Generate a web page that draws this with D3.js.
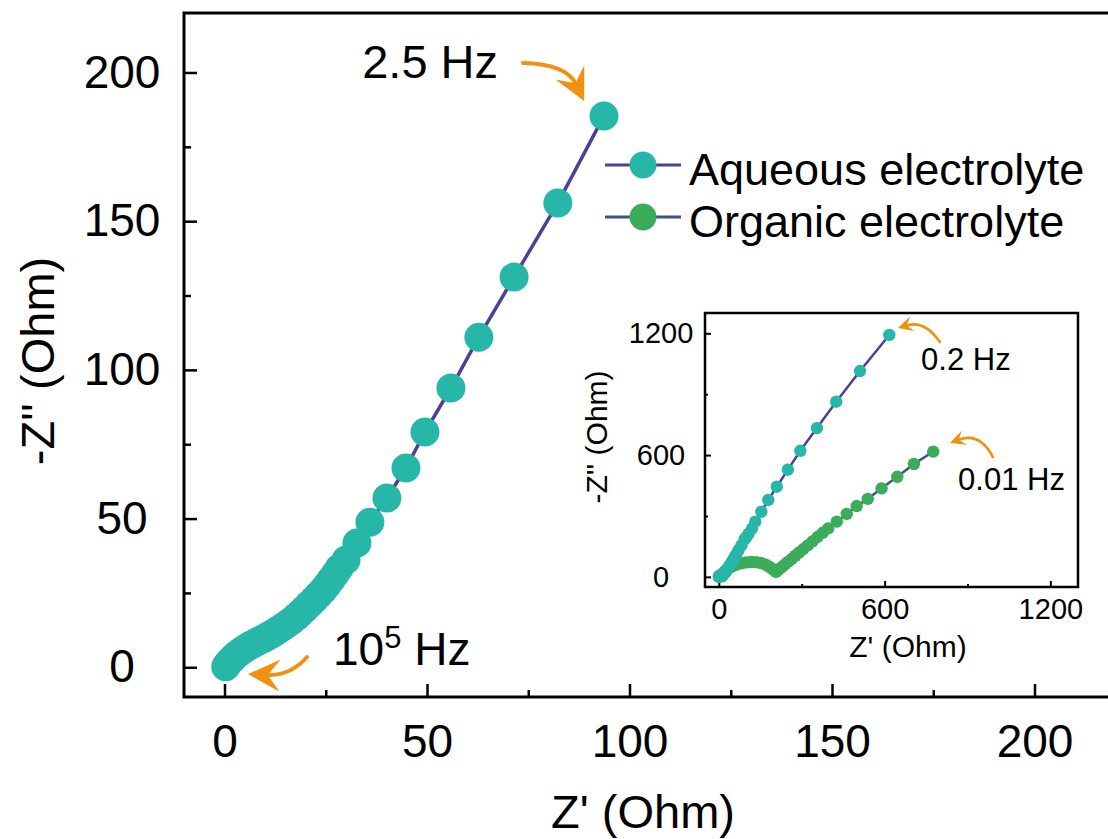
<!DOCTYPE html>
<html lang="en">
<head>
<meta charset="UTF-8">
<title>Nyquist plot</title>
<style>
  body { margin: 0; background: #fff; }
  svg { display: block; font-family: 'Liberation Sans', Arial, sans-serif; }
  .axis path, .axis line { stroke: #000; }
  .axis text { fill: #000; }
</style>
</head>
<body>
<div id="chart"></div>
<script src="https://cdnjs.cloudflare.com/ajax/libs/d3/7.8.5/d3.min.js"></script>
<script>
// aqueous electrolyte, high frequency part (main plot, down to 2.5 Hz)
const aqZre = [0.3, 0.8, 1.5, 2.3, 3.2, 4.2, 5.2, 6.3, 7.4, 8.5, 9.6, 10.7, 11.8, 12.9, 14.0, 15.2, 16.4, 17.6, 18.7, 19.8,
               20.9, 22.1, 23.2, 24.3, 25.3, 26.3, 27.3, 28.3, 30.0, 32.7, 35.9, 40.1, 44.8, 49.5, 55.9, 62.8, 71.5, 82.3, 93.7];
const aqZim = [0.2, 1.2, 2.3, 3.4, 4.5, 5.5, 6.4, 7.3, 8.1, 8.9, 9.6, 10.4, 11.3, 12.2, 13.2, 14.3, 15.5, 16.8, 18.2, 19.6,
               21.1, 22.7, 24.3, 25.9, 27.6, 29.4, 31.3, 33.3, 36.1, 41.8, 48.8, 56.9, 67.0, 79.1, 93.9, 111.0, 131.2, 156.1, 185.4];
// aqueous electrolyte, low frequency part (only in inset, down to 0.2 Hz)
const aqLowZre = [100, 108, 120, 132, 154, 179, 210, 250, 295, 355, 425, 511, 617];
const aqLowZim = [197, 213, 238, 272, 321, 379, 444, 528, 621, 733, 863, 1014, 1192];
// organic electrolyte (inset, down to 0.01 Hz)
const orgZre = [12, 16, 22, 30, 40, 52, 66, 82, 99, 117, 135, 152, 168, 181, 192, 201,
                207, 214, 222, 231, 241, 252, 264, 277, 291, 306, 322, 339, 357, 376, 396,
                427, 463, 499, 539, 589, 646, 706, 776];
const orgZim = [3, 13, 24, 35, 45, 54, 61, 67, 71, 73, 72, 68, 61, 51, 41, 32,
                25, 33, 42, 52, 63, 75, 89, 104, 120, 137, 155, 175, 196, 217, 239,
                272, 310, 349, 384, 436, 493, 556, 617];

const seriesNames = ['Aqueous electrolyte', 'Organic electrolyte'];
const mainTicks = [0, 50, 100, 150, 200];
const mainMinor = [25, 75, 125, 175];
const insetTicks = [0, 600, 1200];
const insetMinor = [300, 900];

const teal = '#27b7a9';
const green = '#3cab5a';
const purple = '#4b3f98';
const slate = '#3d5286';
const orange = '#f0910f';

const width = 1108, height = 839;

const zip = (xs, ys) => xs.map((v, i) => [v, ys[i]]);
const aqMain = zip(aqZre, aqZim);
const aqAll = aqMain.concat(zip(aqLowZre, aqLowZim));
const org = zip(orgZre, orgZim);

let svg = d3.select('#chart')
            .append('svg')
              .attr('width', width)
              .attr('height', height);

// ---------- main plot ----------
let x = d3.scaleLinear().domain([-10, 220]).range([184, 1115.5]);
let y = d3.scaleLinear().domain([-10, 220]).range([697, 13]);

function drawAxes(g, xs, ys, opt) {
    const [x0, x1] = xs.range(), [y0, y1] = ys.range();
    // frame
    g.append('rect')
      .attr('x', x0).attr('y', y1)
      .attr('width', x1 - x0).attr('height', y0 - y1)
      .attr('fill', 'none').attr('stroke', '#000').attr('stroke-width', opt.frame);

    const fmt = d3.format('d');
    let xa = g.append('g').attr('class', 'axis')
              .attr('transform', `translate(0, ${y0})`)
              .call(d3.axisBottom(xs).tickValues(opt.ticks).tickFormat(fmt).tickSizeInner(-opt.major).tickSizeOuter(0)
                      .tickPadding(opt.xPad));
    let ya = g.append('g').attr('class', 'axis')
              .attr('transform', `translate(${x0}, 0)`)
              .call(d3.axisLeft(ys).tickValues(opt.ticks).tickFormat(fmt).tickSizeInner(-opt.major).tickSizeOuter(0)
                      .tickPadding(opt.yPad));
    g.append('g').attr('class', 'axis')
      .attr('transform', `translate(0, ${y0})`)
      .call(d3.axisBottom(xs).tickValues(opt.minor).tickSizeInner(-opt.minorLen).tickSizeOuter(0).tickFormat(''));
    g.append('g').attr('class', 'axis')
      .attr('transform', `translate(${x0}, 0)`)
      .call(d3.axisLeft(ys).tickValues(opt.minor).tickSizeInner(-opt.minorLen).tickSizeOuter(0).tickFormat(''));

    g.selectAll('.axis').attr('font-family', null).attr('font-size', null);
    g.selectAll('.axis path').attr('stroke', 'none');
    g.selectAll('.axis line').attr('stroke-width', opt.tickW);
    [xa, ya].forEach(a => a.selectAll('text').style('font-size', opt.font + 'px'));
    ya.selectAll('text').attr('text-anchor', 'middle');
}

let main = svg.append('g');
drawAxes(main, x, y, {ticks: mainTicks, minor: mainMinor, major: 13, minorLen: 7,
                      frame: 3, tickW: 2.5, font: 46, xPad: 27, yPad: 62});

main.append('text')
    .attr('x', 643).attr('y', 828)
    .attr('text-anchor', 'middle')
    .style('font-size', '47px')
    .text("Z' (Ohm)");
main.append('text')
    .attr('transform', 'translate(54, 361) rotate(-90)')
    .attr('text-anchor', 'middle')
    .style('font-size', '47px')
    .text("-Z'' (Ohm)");

let line = d3.line().x(d => x(d[0])).y(d => y(d[1]));
main.append('path')
    .datum(aqMain)
    .attr('d', line)
    .attr('fill', 'none')
    .attr('stroke', purple)
    .attr('stroke-width', 3.5);
main.selectAll('circle.aq')
    .data(aqMain)
    .enter()
  .append('circle')
    .attr('class', 'aq')
    .attr('cx', d => x(d[0]))
    .attr('cy', d => y(d[1]))
    .attr('r', 14.5)
    .attr('fill', teal);

// curved orange arrows
function arrow(g, xs, ys, p0, c, tip, size, w) {
    const P = [xs(p0[0]), ys(p0[1])], C = [xs(c[0]), ys(c[1])], T = [xs(tip[0]), ys(tip[1])];
    const dx = T[0] - C[0], dy = T[1] - C[1], len = Math.hypot(dx, dy);
    const ux = dx / len, uy = dy / len, nx = -uy, ny = ux;
    const back = [T[0] - ux * size, T[1] - uy * size];
    const notch = [T[0] - ux * size * 0.62, T[1] - uy * size * 0.62];
    const hw = size * 0.5;
    let p = d3.path();
    p.moveTo(P[0], P[1]);
    p.quadraticCurveTo(C[0], C[1], notch[0], notch[1]);
    g.append('path').attr('d', p.toString())
      .attr('fill', 'none').attr('stroke', orange).attr('stroke-width', w).attr('stroke-linecap', 'round');
    g.append('path')
      .attr('d', `M${T[0]},${T[1]}L${back[0] + nx * hw},${back[1] + ny * hw}L${notch[0]},${notch[1]}L${back[0] - nx * hw},${back[1] - ny * hw}Z`)
      .attr('fill', orange);
}

arrow(main, x, y, [73.7, 203.2], [84.3, 202.8], [88.8, 190.4], 32, 4);
arrow(main, x, y, [20.4, 3.45], [16.2, -2.9], [5.8, -2.3], 32, 4);

main.append('text')
    .attr('x', x(34.0)).attr('y', y(198.1))
    .style('font-size', '47px')
    .text('2.5 Hz');
let hf = main.append('text')
    .attr('x', x(26.8)).attr('y', y(0.8))
    .style('font-size', '46px');
hf.append('tspan').text('10');
hf.append('tspan').attr('dy', -17).style('font-size', '31px').text('5');
hf.append('tspan').attr('dy', 17).text(' Hz');

// legend
const legendColors = [[purple, teal], [slate, green]];
seriesNames.forEach((name, i) => {
    const ly = 165 + i * 52;
    main.append('line')
        .attr('x1', 605).attr('x2', 681).attr('y1', ly).attr('y2', ly)
        .attr('stroke', legendColors[i][0]).attr('stroke-width', 3);
    main.append('circle')
        .attr('cx', 643).attr('cy', ly).attr('r', 13.5)
        .attr('fill', legendColors[i][1]);
    main.append('text')
        .attr('x', 689).attr('y', ly + 8)
        .attr('dominant-baseline', 'middle')
        .style('font-size', '45px')
        .text(name);
});

// ---------- inset ----------
let xi = d3.scaleLinear().domain([-50, 1300]).range([705, 1078]);
let yi = d3.scaleLinear().domain([-50, 1300]).range([587, 313]);

let inset = svg.append('g');
drawAxes(inset, xi, yi, {ticks: insetTicks, minor: insetMinor, major: 6, minorLen: 3,
                         frame: 2.5, tickW: 2, font: 29, xPad: 11, yPad: 44});

inset.append('text')
    .attr('x', 908).attr('y', 657)
    .attr('text-anchor', 'middle')
    .style('font-size', '30px')
    .text("Z' (Ohm)");
inset.append('text')
    .attr('transform', 'translate(607, 437) rotate(-90)')
    .attr('text-anchor', 'middle')
    .style('font-size', '30px')
    .text("-Z'' (Ohm)");

let lineI = d3.line().x(d => xi(d[0])).y(d => yi(d[1]));
[[org, slate, green], [aqAll, purple, teal]].forEach(([data, lc, pc]) => {
    inset.append('path')
        .datum(data)
        .attr('d', lineI)
        .attr('fill', 'none')
        .attr('stroke', lc)
        .attr('stroke-width', 2.5);
    inset.append('g').selectAll('circle')
        .data(data)
        .enter()
      .append('circle')
        .attr('cx', d => xi(d[0]))
        .attr('cy', d => yi(d[1]))
        .attr('r', 6.2)
        .attr('fill', pc);
});

arrow(inset, xi, yi, [800, 1157], [746, 1265], [648, 1226], 15, 2.5);
arrow(inset, xi, yi, [992, 590], [945, 714], [837, 660], 15, 2.5);

inset.append('text')
    .attr('x', xi(732)).attr('y', yi(1019))
    .style('font-size', '31px')
    .text('0.2 Hz');
inset.append('text')
    .attr('x', xi(866)).attr('y', yi(428))
    .style('font-size', '31px')
    .text('0.01 Hz');
</script>
</body>
</html>
